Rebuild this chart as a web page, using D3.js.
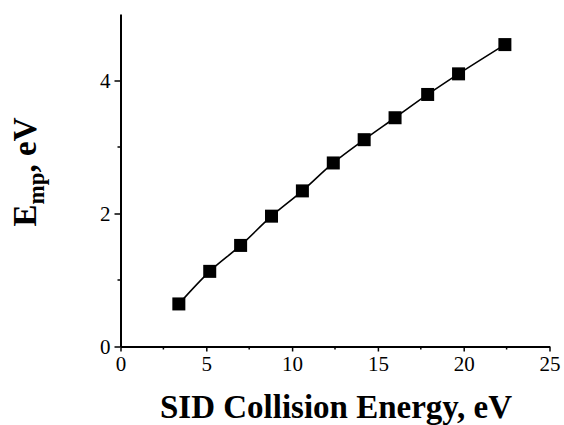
<!DOCTYPE html>
<html><head><meta charset="utf-8">
<script src="https://cdn.jsdelivr.net/npm/d3@7"></script>
<style>body{margin:0;background:#fff}svg{display:block}</style>
</head><body>
<svg id="c" width="564" height="425"></svg>
<script>
const xValues = [3.4, 5.2, 7.0, 8.8, 10.6, 12.4, 14.2, 16.0, 17.9, 19.7, 22.4];
const yValues = [0.64, 1.13, 1.52, 1.96, 2.34, 2.76, 3.11, 3.44, 3.79, 4.10, 4.54];
const xTicks = [0, 5, 10, 15, 20, 25];
const yTicks = [0, 2, 4];
const xMinor = [2.5, 7.5, 12.5, 17.5, 22.5];
const yMinor = [1, 3];

const svg = d3.select("#c");
const x = d3.scaleLinear().domain([0, 25]).range([120.5, 549.5]);
const y = d3.scaleLinear().domain([0, 5]).range([346.5, 14]);
const font = "'Liberation Serif','Times New Roman',serif";

// axes
const gx = svg.append("g").attr("transform", "translate(0,346.5)")
  .call(d3.axisBottom(x).tickValues(xTicks).tickFormat(d3.format("d")).tickSize(5).tickSizeOuter(0).tickPadding(4));
const gy = svg.append("g").attr("transform", "translate(120.5,0)")
  .call(d3.axisLeft(y).tickValues(yTicks).tickFormat(d3.format("d")).tickSize(6).tickSizeOuter(0).tickPadding(3));
[gx, gy].forEach(g => {
  g.select(".domain").attr("stroke", "#000").attr("stroke-width", 2);
  g.selectAll(".tick line").attr("stroke", "#000").attr("stroke-width", 1.5);
  g.selectAll(".tick text").attr("font-family", font).attr("font-size", 21).attr("fill", "#000");
});
gx.selectAll(".tick text").attr("dy", "0.72em");
gy.selectAll(".tick text").attr("dx", "-1");
// minor ticks
svg.append("g").selectAll("line").data(xMinor).join("line")
  .attr("x1", d => x(d)).attr("x2", d => x(d)).attr("y1", 346.5).attr("y2", 349.5)
  .attr("stroke", "#000").attr("stroke-width", 1.5);
svg.append("g").selectAll("line").data(yMinor).join("line")
  .attr("y1", d => y(d)).attr("y2", d => y(d)).attr("x1", 120.5).attr("x2", 117.5)
  .attr("stroke", "#000").attr("stroke-width", 1.5);

// curve
const pts = xValues.map((v, i) => [v, yValues[i]]);
const line = d3.line().x(d => x(d[0])).y(d => y(d[1])).curve(d3.curveCatmullRom);
svg.append("path").datum(pts).attr("d", line).attr("fill", "none")
  .attr("stroke", "#000").attr("stroke-width", 1.6);

// markers
const s = 13;
svg.append("g").selectAll("rect").data(pts).join("rect")
  .attr("x", d => x(d[0]) - s / 2).attr("y", d => y(d[1]) - s / 2)
  .attr("width", s).attr("height", s).attr("fill", "#000");

// axis titles
svg.append("text").attr("x", 336).attr("y", 418).attr("text-anchor", "middle")
  .attr("font-family", font).attr("font-weight", "bold").attr("font-size", 33)
  .text("SID Collision Energy, eV");
const yl = svg.append("text").attr("transform", "translate(36,172) rotate(-90)")
  .attr("text-anchor", "middle").attr("font-family", font).attr("font-weight", "bold").attr("font-size", 33);
yl.append("tspan").text("E");
yl.append("tspan").attr("font-size", 23).attr("dy", 8).text("mp");
yl.append("tspan").attr("dy", -8).text(", eV");
</script>
</body></html>
